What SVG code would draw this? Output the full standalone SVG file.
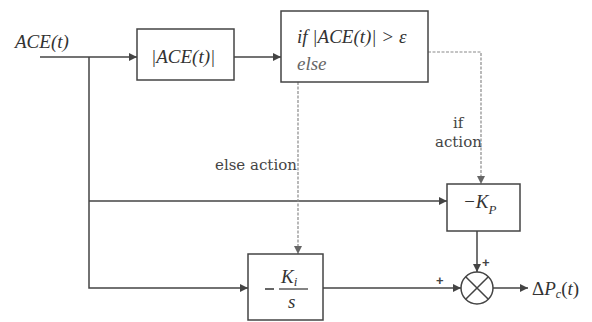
<svg xmlns="http://www.w3.org/2000/svg" width="592" height="322" viewBox="0 0 592 322">
<defs>
<marker id="ah" viewBox="0 0 10 10" refX="10" refY="5" markerWidth="9" markerHeight="8" markerUnits="userSpaceOnUse" orient="auto"><path d="M0,0 L10,5 L0,10 z" fill="#444"/></marker>
<marker id="ahd" viewBox="0 0 10 10" refX="10" refY="5" markerWidth="9" markerHeight="8" markerUnits="userSpaceOnUse" orient="auto"><path d="M0,0 L10,5 L0,10 z" fill="#666"/></marker>
<style>
.box{fill:#fff;stroke:#444;stroke-width:1.5}
.ln{fill:none;stroke:#444;stroke-width:1.5}
.dl{fill:none;stroke:#8a8a8a;stroke-width:1.2;stroke-dasharray:3 1.5}
.m{font-family:"Liberation Serif",serif;font-style:italic;fill:#333;font-size:19px}
.t{font-family:"DejaVu Serif",serif;fill:#444;font-size:15px}
.p{font-family:"Liberation Sans",sans-serif;fill:#444;font-size:13px;font-weight:bold}
</style>
</defs>
<rect width="592" height="322" fill="#fff"/>
<g id="connectors">
<path class="ln" d="M40,57 H137" marker-end="url(#ah)"/>
<path class="ln" d="M89,57 V288 H248" marker-end="url(#ah)"/>
<path class="ln" d="M89,201 H447" marker-end="url(#ah)"/>
<path class="ln" d="M234,57 H281" marker-end="url(#ah)"/>
<path class="dl" d="M428,52 H481 V184" marker-end="url(#ahd)"/>
<path class="dl" d="M298,82 V254" marker-end="url(#ahd)"/>
<path class="ln" d="M323,288 H461" marker-end="url(#ah)"/>
<path class="ln" d="M477,231 V272" marker-end="url(#ah)"/>
<path class="ln" d="M493,288 H528" marker-end="url(#ah)"/>
<text class="t" x="215" y="170">else action</text>
<text class="t" x="453" y="128">if</text>
<text class="t" x="435" y="147">action</text>
<text class="p" x="482" y="267">+</text>
<text class="p" x="436" y="285">+</text>
</g>
<g id="input">
<text class="m" x="15" y="48" font-size="20">ACE(t)</text>
</g>
<g id="abs">
<rect class="box" x="137" y="29" width="97" height="51"/>
<text class="m" x="151" y="63">|ACE(t)|</text>
</g>
<g id="cond">
<rect class="box" x="281" y="11" width="147" height="71"/>
<text class="m" x="297" y="43">if |ACE(t)| &gt; ε</text>
<text class="m" x="297" y="70" style="fill:#666">else</text>
</g>
<g id="kp">
<rect class="box" x="447" y="184" width="73" height="47"/>
<text class="m" x="463" y="208">−K<tspan font-size="13" dy="6">P</tspan></text>
</g>
<g id="ki">
<rect class="box" x="248" y="254" width="75" height="66"/>
<line x1="265" y1="289" x2="274" y2="289" stroke="#333" stroke-width="1.5"/>
<line x1="279" y1="289" x2="308" y2="289" stroke="#333" stroke-width="1.2"/>
<text class="m" x="281" y="283">K<tspan font-size="13" dy="3">i</tspan></text>
<text class="m" x="288" y="308">s</text>
</g>
<g id="sum">
<circle cx="477" cy="288" r="16" fill="#fff" stroke="#444" stroke-width="1.5"/>
<path class="ln" d="M465.7,276.7 L488.3,299.3 M488.3,276.7 L465.7,299.3"/>
</g>
<g id="output">
<text class="m" x="532" y="295" font-size="18" style="font-style:normal">Δ<tspan font-style="italic">P</tspan><tspan font-size="12" dy="3" font-style="italic">c</tspan><tspan dy="-3">(<tspan font-style="italic">t</tspan>)</tspan></text>
</g>
</svg>
